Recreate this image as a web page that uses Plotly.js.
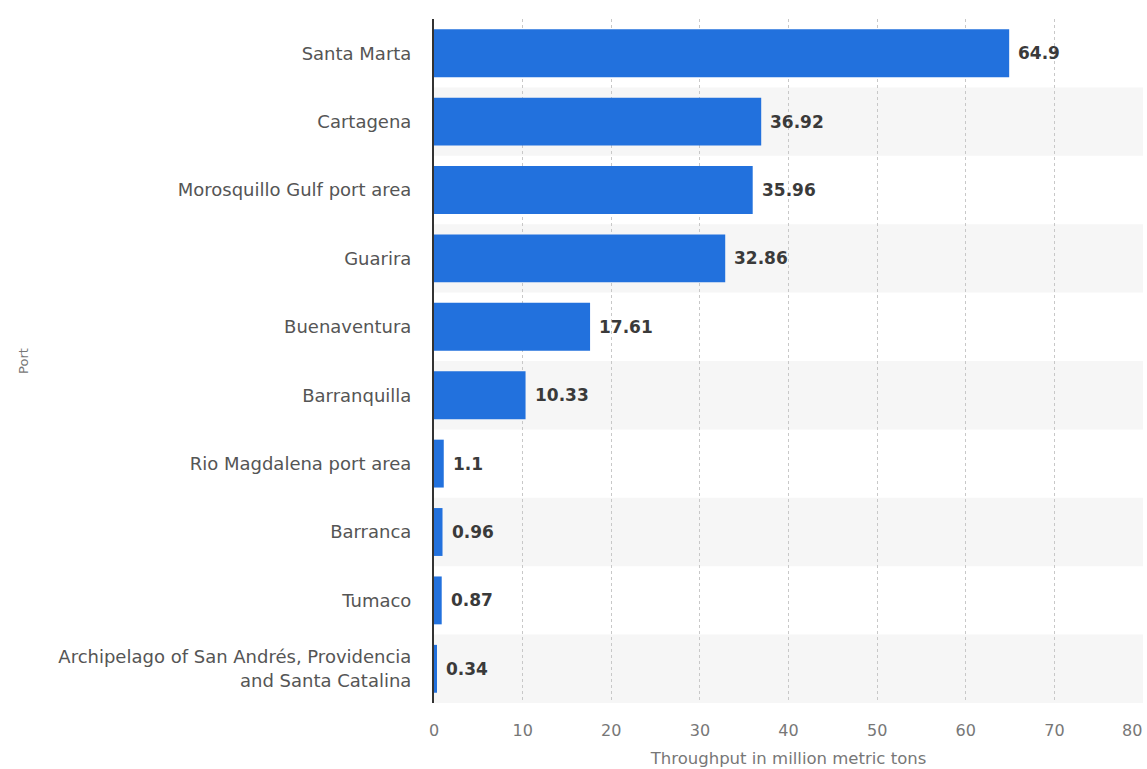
<!DOCTYPE html>
<html>
<head>
<meta charset="utf-8">
<script src="https://cdn.plot.ly/plotly-3.0.1.min.js"></script>
<style>html,body{margin:0;padding:0;background:#fff;}#chart{width:1147px;height:769px;}</style>
</head>
<body>
<div id="chart"></div>
<script>
const ports = [
  "Santa Marta",
  "Cartagena",
  "Morosquillo Gulf port area",
  "Guarira",
  "Buenaventura",
  "Barranquilla",
  "Rio Magdalena port area",
  "Barranca",
  "Tumaco",
  "Archipelago of San Andrés, Providencia<br>and Santa Catalina"
];
const throughput = [64.9, 36.92, 35.96, 32.86, 17.61, 10.33, 1.1, 0.96, 0.87, 0.34];
const valueLabels = ["64.9", "36.92", "35.96", "32.86", "17.61", "10.33", "1.1", "0.96", "0.87", "0.34"];
const xTicks = [0, 10, 20, 30, 40, 50, 60, 70, 80];

const font = "DejaVu Sans, Liberation Sans, sans-serif";
const tickFont = {family: font, size: 16, color: "#777"};

const shapes = [];
ports.forEach((p, i) => {
  if (i % 2 === 1) {
    shapes.push({type: "rect", xref: "paper", yref: "y", x0: 0, x1: 1,
      y0: i - 0.5, y1: i + 0.5, fillcolor: "#f6f6f6", line: {width: 0}, layer: "below"});
  }
});

const annotations = ports.map((p, i) => ({
  x: throughput[i], y: p, xref: "x", yref: "y",
  text: valueLabels[i], showarrow: false,
  xanchor: "left", yanchor: "middle", xshift: 7,
  font: {family: font, size: 17, color: "#3a3a3a", weight: "bold"}
}));
// last x tick label sits at the right edge: right-align it
const lastTick = xTicks[xTicks.length - 1];
annotations.push({
  x: lastTick, y: 0, xref: "x", yref: "paper",
  text: String(lastTick), showarrow: false,
  xanchor: "right", yanchor: "top", yshift: -16, xshift: 1,
  font: tickFont
});

const trace = {
  type: "bar",
  orientation: "h",
  y: ports,
  x: throughput,
  marker: {color: "#2271dd"},
  width: 0.7,
  hoverinfo: "x+y"
};

const layout = {
  width: 1147, height: 769,
  margin: {l: 434, r: 4, t: 19, b: 66, pad: 0},
  paper_bgcolor: "#fff",
  plot_bgcolor: "#fff",
  showlegend: false,
  shapes: shapes,
  annotations: annotations,
  xaxis: {
    range: [0, 80],
    tickvals: xTicks,
    ticktext: xTicks.map((v, i) => i === xTicks.length - 1 ? "" : String(v)),
    showgrid: true, gridcolor: "#c8c8c8", griddash: "dot", gridwidth: 1,
    zeroline: false, showline: false,
    tickfont: tickFont,
    ticks: "", ticklabelstandoff: 16,
    title: {text: "Throughput in million metric tons", font: {family: font, size: 16.5, color: "#777"}, standoff: 13},
    automargin: false,
    fixedrange: true
  },
  yaxis: {
    autorange: "reversed",
    type: "category",
    showgrid: false, zeroline: false,
    showline: true, linecolor: "#333", linewidth: 2,
    ticks: "", ticklabelstandoff: 17,
    tickfont: {family: font, size: 18, color: "#555"},
    title: {text: "Port", font: {family: font, size: 13, color: "#777"}, standoff: 27},
    automargin: false,
    fixedrange: true
  },
  bargap: 0.3
};

Plotly.newPlot("chart", [trace], layout, {displayModeBar: false, staticPlot: true});
</script>
</body>
</html>
